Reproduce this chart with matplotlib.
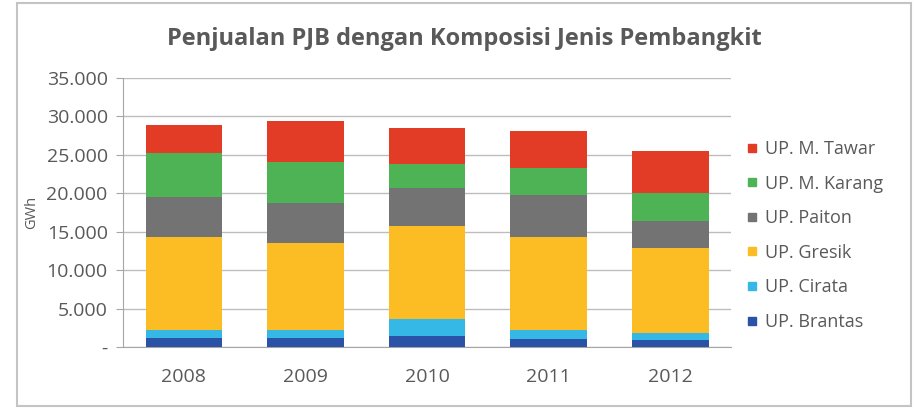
import matplotlib as mpl
mpl.use("Agg")
import matplotlib.pyplot as plt
from matplotlib.lines import Line2D
from matplotlib.patches import Rectangle
from matplotlib.ticker import FuncFormatter, MultipleLocator

plt.rcParams['font.family'] = ['Open Sans', 'DejaVu Sans']

years = ["2008", "2009", "2010", "2011", "2012"]
# GWh per unit (bottom to top)
brantas = [1200, 1170, 1430, 1090, 960]
cirata = [1000, 1040, 2270, 1090, 920]
gresik = [12080, 11370, 12040, 12170, 10950]
paiton = [5290, 5210, 4990, 5430, 3600]
m_karang = [5650, 5340, 3090, 3480, 3570]
m_tawar = [3680, 5300, 4660, 4780, 5560]

series = [("UP. Brantas", brantas, "#2a52a6"),
          ("UP. Cirata", cirata, "#35b8e6"),
          ("UP. Gresik", gresik, "#fbbd23"),
          ("UP. Paiton", paiton, "#737373"),
          ("UP. M. Karang", m_karang, "#4db355"),
          ("UP. M. Tawar", m_tawar, "#e23b26")]

txt = "#595959"
fig = plt.figure(figsize=(9.2, 4.09), dpi=100)
ax = fig.add_axes([0.1337, 0.1516, 0.6609, 0.6577])

x = range(len(years))
bottom = [0] * len(years)
for name, vals, col in series:
    ax.bar(x, vals, 0.63, bottom=bottom, color=col, zorder=3)
    bottom = [b + v for b, v in zip(bottom, vals)]

ax.set_xlim(-0.5, 4.5)
ax.set_ylim(0, 35000)
ax.yaxis.set_major_locator(MultipleLocator(5000))
ax.yaxis.set_major_formatter(FuncFormatter(
    lambda v, p: "-" if v == 0 else f"{v:,.0f}".replace(",", ".")))
ax.set_xticks(list(x))
ax.set_xticklabels(years)
ax.grid(axis="y", color="#bdbdbd", linewidth=1, zorder=0)
for sp in ["top", "right"]:
    ax.spines[sp].set_visible(False)
for sp in ["left", "bottom"]:
    ax.spines[sp].set_color("#a6a6a6")
ax.tick_params(axis="y", length=5, color="#a6a6a6", labelcolor=txt,
               labelsize=14, pad=6)
ax.tick_params(axis="x", length=0, labelcolor=txt, labelsize=14, pad=15)
ax.set_ylabel("GWh", color=txt, fontsize=10.5, labelpad=5)

fig.text(0.505, 0.905, "Penjualan PJB dengan Komposisi Jenis Pembangkit",
         ha="center", va="center", fontsize=17, fontweight="bold",
         color=txt)

handles = [Line2D([], [], marker="s", linestyle="", color=col, markersize=6)
           for name, vals, col in reversed(series)]
labels = [name for name, vals, col in reversed(series)]
fig.legend(handles, labels, loc="upper left", bbox_to_anchor=(0.802, 0.68),
           frameon=False, fontsize=13, labelcolor=txt, handlelength=0.6,
           handletextpad=0.4, labelspacing=0.92, borderpad=0)

fig.patches.append(Rectangle((17 / 920, 3 / 409), 894 / 920, 403 / 409,
                             transform=fig.transFigure, fill=False,
                             edgecolor="#c4c4c4", linewidth=1.5))

fig.savefig("out.png")
